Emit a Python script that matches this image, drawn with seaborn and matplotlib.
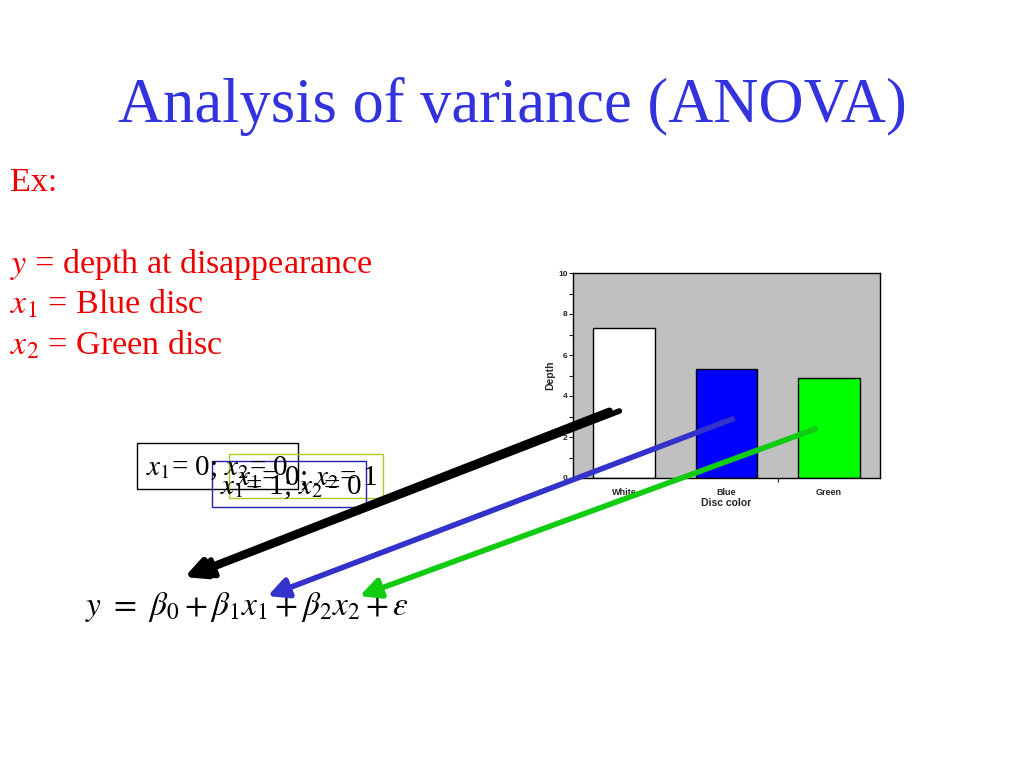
import matplotlib
matplotlib.use("Agg")
import matplotlib.pyplot as plt
from matplotlib.patches import FancyArrowPatch, Rectangle
import pandas as pd
import seaborn as sns

# Bar chart data
disc_colors = ["White", "Blue", "Green"]
depths = [7.3, 5.3, 4.9]
bar_fills = ["#FFFFFF", "#0000FF", "#00FF00"]

y_ticks = [0, 2, 4, 6, 8, 10]

W, H = 1024, 768


def px(x, y):
    """Image pixel (top-left origin) to figure fraction."""
    return (x / W, 1 - y / H)


sns.set_theme(style="white")
plt.rcParams["font.family"] = ["Liberation Sans", "DejaVu Sans"]
plt.rcParams["mathtext.fontset"] = "stix"

fig = plt.figure(figsize=(10.24, 7.68), dpi=100, facecolor="white")

# Slide title and text
serif = ["Liberation Serif", "DejaVu Serif"]
fig.text(0.5, 1 - 107 / H, "Analysis of variance (ANOVA)", ha="center", va="center",
         fontsize=45, color="#3333DD", family=serif)
red = "#EE0000"
fig.text(*px(10, 183), "Ex:", ha="left", va="center", fontsize=24.5, color=red, family=serif)
fig.text(*px(10, 264), r"$y$ = depth at disappearance", ha="left", va="center",
         fontsize=24.5, color=red, family=serif)
fig.text(*px(10, 304), r"$x_1$ = Blue disc", ha="left", va="center",
         fontsize=24.5, color=red, family=serif)
fig.text(*px(10, 345), r"$x_2$ = Green disc", ha="left", va="center",
         fontsize=24.5, color=red, family=serif)

# Bar chart
ax = fig.add_axes([573 / W, 1 - 478 / H, 307 / W, 205 / H])
df = pd.DataFrame({"Disc color": disc_colors, "Depth": depths})
sns.barplot(data=df, x="Disc color", y="Depth", hue="Disc color", palette=bar_fills,
            saturation=1, edgecolor="black", linewidth=1, width=0.6, legend=False, ax=ax)
ax.set_facecolor("#C0C0C0")
ax.set_ylim(0, 10)
ax.set_xlim(-0.5, 2.5)
ax.set_yticks(y_ticks)
ax.set_yticks(range(1, 10, 2), minor=True)
ax.set_xticks([0.5, 1.5], minor=True)
ax.tick_params(axis="y", which="both", direction="out", left=True, length=3, width=0.8,
               labelsize=6, pad=1)
ax.tick_params(axis="x", which="major", bottom=False, labelsize=6.5, pad=1)
ax.tick_params(axis="x", which="minor", bottom=True, direction="out", length=3, width=0.8)
for lbl in ax.get_xticklabels() + ax.get_yticklabels():
    lbl.set_fontweight("bold")
ax.set_xlabel("Disc color", fontsize=7.5, fontweight="bold", labelpad=1)
ax.set_ylabel("Depth", fontsize=7.5, fontweight="bold", labelpad=2)
for s in ax.spines.values():
    s.set_color("black")
    s.set_linewidth(1)

# Indicator boxes
boxes = [
    ((137, 443), (298, 489), "black", r"$x_1$= 0; $x_2$= 0", (146, 468)),
    ((229, 454), (383, 498), "#AACC22", r"$x_1$= 0; $x_2$= 1", (236, 478)),
    ((212, 461), (366, 507), "#2222AA", r"$x_1$= 1; $x_2$= 0", (220, 487)),
]
for (x0, y0), (x1, y1), col, label, (tx, ty) in boxes:
    bl = px(x0, y1)
    fig.add_artist(Rectangle(bl, (x1 - x0) / W, (y1 - y0) / H, transform=fig.transFigure,
                             fill=False, edgecolor=col, linewidth=1, zorder=2))
    fig.text(*px(tx, ty), label, ha="left", va="center", fontsize=21, color="black",
             family=serif, zorder=3)

# Arrows
arrows = [
    ((612, 410), (182, 578), "black", 5),
    ((622, 410), (190, 577), "black", 4),
    ((735, 418), (265, 597), "#3333CC", 4),
    ((818, 428), (357, 597), "#11CC11", 4),
]
for start, end, col, lw in arrows:
    fig.add_artist(FancyArrowPatch(px(*start), px(*end), transform=fig.transFigure,
                                   arrowstyle="-|>,head_length=0.6,head_width=0.3",
                                   mutation_scale=20, color=col, linewidth=lw, zorder=5))

# Model equation
fig.text(*px(85, 607), r"$y\ =\ \beta_0 + \beta_1 x_1 + \beta_2 x_2 + \varepsilon$",
         ha="left", va="center", fontsize=24, color="black")

fig.savefig("out.png", dpi=100, facecolor="white")
